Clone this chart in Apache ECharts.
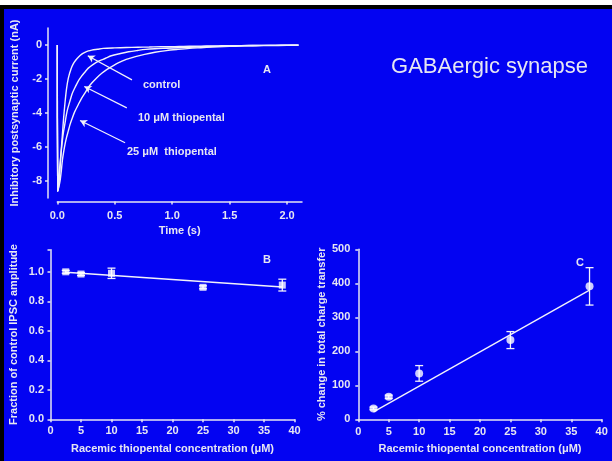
<!DOCTYPE html>
<html>
<head>
<meta charset="utf-8">
<script src="https://cdn.jsdelivr.net/npm/echarts@6/dist/echarts.min.js"></script>
<style>
html,body{margin:0;padding:0;background:#fff;}
#chart{width:612px;height:461px;}
</style>
</head>
<body>
<div id="chart"></div>
<script>
// ---- Panel A: IPSC traces (time s, current nA) ----
const controlT = [0, 0.004, 0.015, 0.024, 0.035, 0.044, 0.055, 0.067, 0.08, 0.096, 0.12, 0.14, 0.16, 0.183, 0.21, 0.24, 0.27, 0.30, 0.35, 0.40, 0.50, 0.60, 0.70, 0.80, 0.90, 1.0, 1.1, 1.2, 1.3, 1.4, 1.5, 1.6, 1.7, 1.8, 1.9, 2.0, 2.1];
const controlV = [0, -8.6, -8.1, -7.2, -6.1, -5.3, -4.3, -3.4, -2.6, -1.95, -1.4, -1.1, -0.9, -0.72, -0.55, -0.43, -0.35, -0.3, -0.25, -0.2, -0.17, -0.15, -0.13, -0.12, -0.1, -0.1, -0.08, -0.07, -0.06, -0.05, -0.04, -0.04, -0.03, -0.02, -0.02, -0.01, -0.01];
const tenT = [0, 0.004, 0.015, 0.025, 0.038, 0.052, 0.067, 0.085, 0.11, 0.13, 0.154, 0.18, 0.21, 0.24, 0.27, 0.31, 0.36, 0.42, 0.47, 0.55, 0.62, 0.70, 0.77, 0.85, 0.95, 1.05, 1.15, 1.25, 1.35, 1.5, 1.7, 1.9, 2.1];
const tenV = [0, -8.6, -7.7, -6.9, -6.0, -5.2, -4.6, -3.9, -3.3, -2.85, -2.5, -2.15, -1.85, -1.6, -1.36, -1.15, -0.95, -0.78, -0.63, -0.5, -0.4, -0.32, -0.26, -0.22, -0.19, -0.16, -0.13, -0.1, -0.08, -0.05, -0.03, -0.02, -0.01];
const twentyfiveT = [0, 0.004, 0.015, 0.024, 0.035, 0.044, 0.055, 0.067, 0.08, 0.096, 0.11, 0.125, 0.15, 0.183, 0.21, 0.24, 0.27, 0.30, 0.34, 0.387, 0.43, 0.474, 0.53, 0.6, 0.68, 0.76, 0.85, 0.95, 1.05, 1.15, 1.25, 1.35, 1.45, 1.55, 1.7, 1.85, 2.0, 2.1];
const twentyfiveV = [0, -8.6, -8.3, -8.0, -7.4, -6.8, -6.3, -5.85, -5.45, -5.05, -4.7, -4.4, -3.95, -3.5, -3.15, -2.83, -2.5, -2.24, -1.95, -1.66, -1.45, -1.27, -1.05, -0.85, -0.68, -0.55, -0.43, -0.33, -0.26, -0.2, -0.16, -0.12, -0.09, -0.07, -0.04, -0.03, -0.02, -0.01];
const aXTicks = [0, 0.5, 1.0, 1.5, 2.0];
const aYTicks = [-8, -6, -4, -2, 0];
// annotation arrows in data coords: [tailT, tailV, headT, headV]
const arrowControl = [0.65, -2.05, 0.265, -0.63];
const arrowTen = [0.605, -3.7, 0.235, -2.44];
const arrowTwentyfive = [0.59, -5.75, 0.198, -4.44];

// ---- Panel B: fraction of control IPSC amplitude ----
const concB = [2.5, 5, 10, 25, 38];
const ampB = [1.0, 0.985, 0.99, 0.895, 0.91];
const ampErrB = [0.01, 0.01, 0.035, 0.01, 0.04];
const fitB = [[2.5, 0.997], [38, 0.897]];
const bYTicks = [0, 0.2, 0.4, 0.6, 0.8, 1.0];
const bXTicks = [0, 5, 10, 15, 20, 25, 30, 35, 40];

// ---- Panel C: % change in total charge transfer ----
const concC = [2.5, 5, 10, 25, 38];
const chargeC = [32, 66, 135, 233, 391];
const chargeErrC = [4, 5, 23, 25, 55];
const fitC = [[2.5, 22], [38, 380]];
const cYTicks = [0, 100, 200, 300, 400, 500];
const cXTicks = [0, 5, 10, 15, 20, 25, 30, 35, 40];

const BLUE = '#0303F2';
const FG = '#E6E6F2';
const LINE = '#F2F2FA';
const FONT = '"Liberation Sans", Arial, sans-serif';

const chart = echarts.init(document.getElementById('chart'), null, {renderer: 'canvas'});

function axisBase(extra) {
  return Object.assign({
    axisLine: {show: true, onZero: false, lineStyle: {color: FG, width: 1.5}},
    splitLine: {show: false},
    nameTextStyle: {color: FG, fontFamily: FONT, fontWeight: 'bold', fontSize: 11},
    nameLocation: 'middle'
  }, extra);
}
function lbl(fmt, margin, custom) {
  return {color: FG, fontFamily: FONT, fontWeight: 'bold', fontSize: 11, margin: margin, formatter: fmt, customValues: custom};
}
function tick(custom) {
  return {show: true, inside: false, length: 3, customValues: custom, lineStyle: {color: FG, width: 1.5}};
}

function errorBars(xs, ys, es, gridIdx) {
  return {
    type: 'custom', xAxisIndex: gridIdx, yAxisIndex: gridIdx, z: 2,
    data: xs.map((x, i) => [x, ys[i], es[i]]),
    renderItem: function (params, api) {
      const x = api.value(0), y = api.value(1), e = api.value(2);
      const top = api.coord([x, y + e]);
      const bot = api.coord([x, y - e]);
      const w = 4;
      const st = {stroke: LINE, lineWidth: 1.3};
      return {type: 'group', children: [
        {type: 'line', shape: {x1: top[0], y1: top[1], x2: bot[0], y2: bot[1]}, style: st},
        {type: 'line', shape: {x1: top[0] - w, y1: top[1], x2: top[0] + w, y2: top[1]}, style: st},
        {type: 'line', shape: {x1: bot[0] - w, y1: bot[1], x2: bot[0] + w, y2: bot[1]}, style: st}
      ]};
    }
  };
}

function arrowLine(a) {
  return [{coord: [a[0], a[1]]}, {coord: [a[2], a[3]]}];
}

const txt = (x, y, s, size, weight, align) => ({
  type: 'text', x: x, y: y, z: 10,
  style: {text: s, fill: FG, font: (weight || 'bold') + ' ' + (size || 11) + 'px ' + FONT, textAlign: align || 'center', textVerticalAlign: 'middle'}
});

const option = {
  backgroundColor: BLUE,
  animation: false,
  grid: [
    {left: 57.3, top: 28, width: 244.7, height: 170},
    {left: 50.5, top: 249.7, width: 244, height: 169.6},
    {left: 358.3, top: 249.3, width: 243.4, height: 170}
  ],
  xAxis: [
    axisBase({gridIndex: 0, type: 'value', min: 0, max: 2.13, offset: 3.5, name: 'Time (s)', nameGap: 24,
      axisLabel: lbl(v => v.toFixed(1), 9, aXTicks), axisTick: tick(aXTicks)}),
    axisBase({gridIndex: 1, type: 'value', min: 0, max: 40, name: 'Racemic thiopental concentration (μM)', nameGap: 24,
      axisLabel: lbl(v => String(v), 6, bXTicks), axisTick: tick(bXTicks)}),
    axisBase({gridIndex: 2, type: 'value', min: 0, max: 40, name: 'Racemic thiopental concentration (μM)', nameGap: 24,
      axisLabel: lbl(v => String(v), 7, cXTicks), axisTick: tick(cXTicks)})
  ],
  yAxis: [
    axisBase({gridIndex: 0, type: 'value', min: -9, max: 1, offset: 9.3, name: 'Inhibitory postsynaptic current (nA)', nameGap: 28,
      axisLabel: lbl(v => String(v), 6, aYTicks), axisTick: tick(aYTicks)}),
    axisBase({gridIndex: 1, type: 'value', min: 0, max: 1.15, name: 'Fraction of control IPSC amplitude', nameGap: 31,
      axisLabel: lbl(v => v.toFixed(1), 6.5, bYTicks), axisTick: tick(bYTicks.concat([1.15]))}),
    axisBase({gridIndex: 2, type: 'value', min: 0, max: 500, name: '% change in total charge transfer', nameGap: 31,
      axisLabel: lbl(v => String(v), 8, cYTicks), axisTick: tick(cYTicks)})
  ],
  series: [
    {type: 'line', xAxisIndex: 0, yAxisIndex: 0, showSymbol: false, smooth: 0.3, lineStyle: {color: LINE, width: 1.4},
      data: controlT.map((t, i) => [t, controlV[i]]),
      markLine: {silent: true, symbol: ['none', 'arrow'], symbolSize: [6, 7], label: {show: false},
        lineStyle: {color: LINE, width: 1.2, type: 'solid'},
        data: [arrowLine(arrowControl), arrowLine(arrowTen), arrowLine(arrowTwentyfive)]}},
    {type: 'line', xAxisIndex: 0, yAxisIndex: 0, showSymbol: false, smooth: 0.3, lineStyle: {color: LINE, width: 1.4},
      data: tenT.map((t, i) => [t, tenV[i]])},
    {type: 'line', xAxisIndex: 0, yAxisIndex: 0, showSymbol: false, smooth: 0.3, lineStyle: {color: LINE, width: 1.4},
      data: twentyfiveT.map((t, i) => [t, twentyfiveV[i]])},

    {type: 'line', xAxisIndex: 1, yAxisIndex: 1, showSymbol: false, lineStyle: {color: LINE, width: 1.4}, data: fitB},
    errorBars(concB, ampB, ampErrB, 1),
    {type: 'scatter', xAxisIndex: 1, yAxisIndex: 1, z: 3, symbol: 'rect', symbolSize: 7,
      itemStyle: {color: '#FFFFFF'}, data: concB.map((c, i) => [c, ampB[i]])},

    {type: 'line', xAxisIndex: 2, yAxisIndex: 2, showSymbol: false, lineStyle: {color: LINE, width: 1.4}, data: fitC},
    errorBars(concC, chargeC, chargeErrC, 2),
    {type: 'scatter', xAxisIndex: 2, yAxisIndex: 2, z: 3, symbol: 'circle', symbolSize: 8,
      itemStyle: {color: '#FFFFFF'}, data: concC.map((c, i) => [c, chargeC[i]])}
  ],
  graphic: [
    {type: 'rect', shape: {x: 0, y: 0, width: 612, height: 5}, style: {fill: '#FFFFFF'}, z: 20},
    {type: 'rect', shape: {x: 0, y: 5, width: 612, height: 4}, style: {fill: '#000000'}, z: 20},
    {type: 'rect', shape: {x: 0, y: 5, width: 4, height: 456}, style: {fill: '#000000'}, z: 20},
    txt(489.5, 67, 'GABAergic synapse', 22, 'normal'),
    txt(267, 70, 'A', 11),
    txt(267, 260, 'B', 11),
    txt(580, 263, 'C', 11),
    txt(143, 85, 'control', 11, 'bold', 'left'),
    txt(138, 118, '10 μM thiopental', 11, 'bold', 'left'),
    txt(127, 151.5, '25 μM  thiopental', 11, 'bold', 'left')
  ]
};
chart.setOption(option);
</script>
</body>
</html>
